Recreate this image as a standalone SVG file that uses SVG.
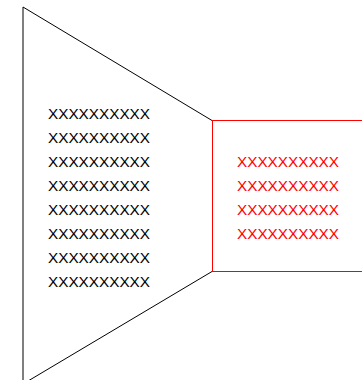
<svg xmlns="http://www.w3.org/2000/svg" width="362" height="380" viewBox="0 0 362 380">
<style>
.t{font-family:"Liberation Sans",Arial,sans-serif;font-size:15.3px}
.b{fill:#000}
.r{fill:#ff0000}
</style>
<rect width="362" height="380" fill="#fff"/>
<g id="connectors">
<polyline points="212,120.5 23,7 23,384 212,271.5" fill="none" stroke="#000" stroke-width="1"/>
</g>
<g id="source">
<text class="t b" x="48" y="119">XXXXXXXXXX</text>
<text class="t b" x="48" y="143">XXXXXXXXXX</text>
<text class="t b" x="48" y="167">XXXXXXXXXX</text>
<text class="t b" x="48" y="191">XXXXXXXXXX</text>
<text class="t b" x="48" y="215">XXXXXXXXXX</text>
<text class="t b" x="48" y="239">XXXXXXXXXX</text>
<text class="t b" x="48" y="263">XXXXXXXXXX</text>
<text class="t b" x="48" y="287">XXXXXXXXXX</text>
</g>
<g id="detail">
<rect x="212.5" y="120.5" width="160" height="151" fill="none" stroke="#ff0000" stroke-width="1"/>
<text class="t r" x="237" y="167">XXXXXXXXXX</text>
<text class="t r" x="237" y="191">XXXXXXXXXX</text>
<text class="t r" x="237" y="215">XXXXXXXXXX</text>
<text class="t r" x="237" y="239">XXXXXXXXXX</text>
</g>
</svg>
